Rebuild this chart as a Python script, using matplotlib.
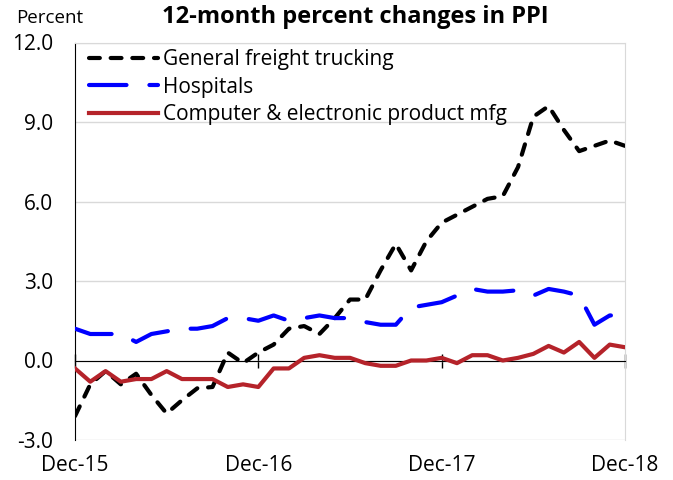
import numpy as np
import matplotlib
matplotlib.use('Agg')
import matplotlib.pyplot as plt

plt.rcParams['font.family'] = ['Open Sans', 'DejaVu Sans']

# 12-month percent changes, monthly Dec-15 .. Dec-18
trucking = [-2.1, -0.9, -0.4, -0.9, -0.5, -1.3, -2.0, -1.5, -1.05, -1.0,
            0.3, -0.1, 0.3, 0.6, 1.2, 1.3, 1.0, 1.6, 2.3, 2.3,
            3.4, 4.4, 3.4, 4.5, 5.2, 5.5, 5.8, 6.1, 6.2, 7.3,
            9.2, 9.6, 8.7, 7.9, 8.1, 8.3, 8.1]
hospitals = [1.2, 1.0, 1.0, 1.0, 0.7, 1.0, 1.1, 1.2, 1.2, 1.3,
             1.6, 1.6, 1.5, 1.7, 1.5, 1.6, 1.7, 1.6, 1.6, 1.45,
             1.35, 1.35, 2.0, 2.1, 2.2, 2.45, 2.7, 2.6, 2.6, 2.65,
             2.45, 2.7, 2.6, 2.45, 1.35, 1.7, 1.7]
computers = [-0.3, -0.8, -0.4, -0.8, -0.7, -0.7, -0.4, -0.7, -0.7, -0.7,
             -1.0, -0.9, -1.0, -0.3, -0.3, 0.1, 0.2, 0.1, 0.1, -0.1,
             -0.2, -0.2, 0.0, 0.0, 0.1, -0.1, 0.2, 0.2, 0.0, 0.1,
             0.25, 0.55, 0.3, 0.7, 0.1, 0.6, 0.5]
year_labels = ['Dec-15', 'Dec-16', 'Dec-17', 'Dec-18']
y_ticks = [-3.0, 0.0, 3.0, 6.0, 9.0, 12.0]

x = np.arange(len(trucking))

fig = plt.figure(figsize=(6.73, 4.8), dpi=100)
ax = fig.add_axes([75/673, 40/480, 550/673, 397.5/480])

ax.plot(x, trucking, color='black', lw=3, dashes=(2.6, 2.6),
        dash_capstyle='round', label='General freight trucking', zorder=3)
ax.plot(x, hospitals, color='#0000FF', lw=3, dashes=(9, 5.5),
        dash_capstyle='round', label='Hospitals', zorder=3)
ax.plot(x, computers, color='#B5232A', lw=3,
        label='Computer & electronic product mfg', zorder=3)

ax.set_xlim(x[0], x[-1])
ax.set_ylim(-3, 12)
ax.set_yticks(y_ticks)
ax.set_yticklabels([f'{v:.1f}' for v in y_ticks])
ax.tick_params(axis='y', length=0, pad=16, labelsize=15)
ax.yaxis.grid(True, color='#D9D9D9', lw=1)
ax.set_axisbelow(True)

# zero line carries the tick marks
ax.spines['bottom'].set_position(('data', 0))
ax.spines['bottom'].set_color('black')
ax.spines['left'].set_color('black')
ax.spines['top'].set_color('#D9D9D9')
ax.spines['right'].set_color('#D9D9D9')
ax.spines['right'].set_zorder(1)
ax.set_xticks(x[::12])
ax.tick_params(axis='x', direction='inout', length=10, width=1,
               labelbottom=False)

# labels at the bottom edge
sec = ax.secondary_xaxis(0.0)
sec.set_xticks(x[::12], year_labels)
sec.tick_params(length=0, pad=11, labelsize=15)
sec.spines['bottom'].set_visible(False)

leg = ax.legend(loc='upper left', bbox_to_anchor=(0.01, 1.005), frameon=False,
                fontsize=15, handlelength=3.3, handletextpad=0.25,
                labelspacing=0.32, borderaxespad=0)

fig.text(16/673, 1 - 18/480, 'Percent', fontsize=13.5, va='center', ha='left')
fig.text(355/673, 1 - 17/480, '12-month percent changes in PPI',
         fontsize=17, fontweight='bold', ha='center', va='center')

fig.savefig('out.png', dpi=100)
